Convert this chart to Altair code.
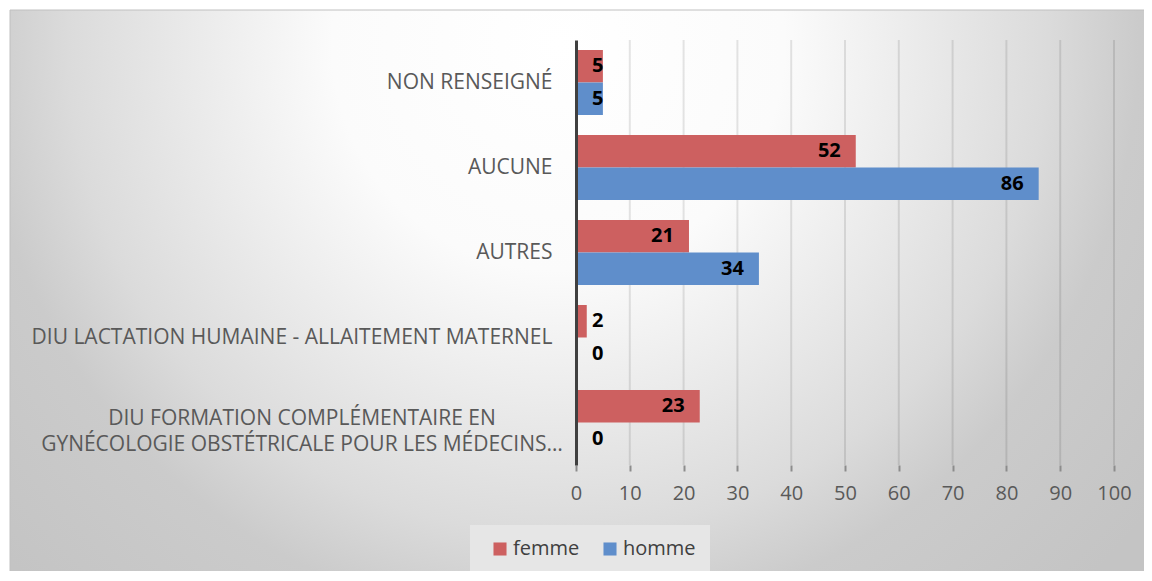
import altair as alt
import pandas as pd

# ---- data ----
categories = [
    "NON RENSEIGNÉ",
    "AUCUNE",
    "AUTRES",
    "DIU LACTATION HUMAINE - ALLAITEMENT MATERNEL",
    "DIU FORMATION COMPLÉMENTAIRE EN\nGYNÉCOLOGIE OBSTÉTRICALE POUR LES MÉDECINS…",
]
femme = [5, 52, 21, 2, 23]
homme = [5, 86, 34, 0, 0]
series = ["femme", "homme"]
colors = ["#cd6060", "#5f8ecb"]
x_ticks = [0, 10, 20, 30, 40, 50, 60, 70, 80, 90, 100]

rows = []
for c, f, h in zip(categories, femme, homme):
    rows.append({"cat": c, "sexe": "femme", "n": f})
    rows.append({"cat": c, "sexe": "homme", "n": h})
df = pd.DataFrame(rows)
grid_df = pd.DataFrame({"t": x_ticks[1:]})
multi_df = pd.DataFrame({"cat": [c for c in categories if "\n" in c]})

W, H = 538, 425
FONT = "Open Sans"

ysc = alt.Scale(domain=categories, paddingInner=0.235, paddingOuter=0.1175)
xsc = alt.Scale(domain=[0, 100], nice=False)

xaxis = alt.Axis(
    values=x_ticks,
    grid=False,
    domain=False,
    ticks=True,
    tickColor="#8c8c8c",
    tickWidth=2,
    tickSize=6,
    labelPadding=12,
    labelFontSize=20,
    labelColor="#595959",
    labelFont=FONT,
    labelFlush=False,
    labelOverlap=False,
    title=None,
    zindex=1,
)

yaxis = alt.Axis(
    labelExpr="indexof(datum.label, '\\n') >= 0 ? '' : datum.label",
    labelAlign="right",
    labelPadding=24,
    labelFontSize=21,
    labelColor="#595959",
    labelFont=FONT,
    labelLimit=700,
    ticks=False,
    domain=True,
    domainColor="#404040",
    domainWidth=3,
    grid=False,
    title=None,
    zindex=1,
)

bg_gradient = {
    "gradient": "radial",
    "x1": 0.48, "y1": 0.03, "r1": 0,
    "x2": 0.48, "y2": 0.03, "r2": 0.66,
    "stops": [
        {"offset": 0.0, "color": "#ffffff"},
        {"offset": 0.3, "color": "#fbfbfb"},
        {"offset": 0.65, "color": "#dbdbdb"},
        {"offset": 0.77, "color": "#cbcbcb"},
        {"offset": 1.0, "color": "#c4c4c4"},
    ],
}

background = alt.Chart(pd.DataFrame({"k": [0]})).mark_rect(
    fill=bg_gradient, stroke="#c0c0c0", strokeWidth=1
).encode(
    x=alt.value(-566), x2=alt.value(576), y=alt.value(-30), y2=alt.value(1112)
)

grid = alt.Chart(grid_df).mark_rule(color="#000000", opacity=0.1, strokeWidth=2).encode(
    x=alt.X("t:Q", scale=xsc, axis=xaxis),
    y=alt.value(0),
    y2=alt.value(H),
)

base = alt.Chart(df).encode(
    y=alt.Y("cat:N", scale=ysc, sort=categories, axis=yaxis),
    yOffset=alt.YOffset("sexe:N", sort=series, scale=alt.Scale(paddingInner=0, paddingOuter=0)),
)

bars = base.mark_bar().encode(
    x=alt.X("n:Q", scale=xsc, axis=xaxis),
    color=alt.Color(
        "sexe:N",
        scale=alt.Scale(domain=series, range=colors),
        legend=alt.Legend(
            title=None,
            orient="none",
            direction="horizontal",
            legendX=-106,
            legendY=485,
            fillColor="#e6e6e6",
            padding=14,
            symbolType="square",
            symbolSize=170,
            symbolStrokeWidth=0,
            labelFontSize=20,
            labelFont=FONT,
            labelColor="#404040",
            labelOffset=3,
            columnPadding=14,
            symbolOffset=6,
        ),
    ),
)

labels_big = base.transform_filter("datum.n > 5").mark_text(
    align="right", baseline="middle", dx=-15, fontSize=20, fontWeight="bold",
    font=FONT, color="#000000"
).encode(x=alt.X("n:Q", scale=xsc, axis=xaxis), text="n:Q")

labels_small = base.transform_filter("datum.n <= 5").transform_calculate(
    zero="0"
).mark_text(
    align="left", baseline="middle", dx=16, fontSize=20, fontWeight="bold",
    font=FONT, color="#000000"
).encode(x=alt.X("zero:Q", scale=xsc, axis=xaxis), text="n:Q")

multi_label = alt.Chart(multi_df).mark_text(
    align="center", baseline="middle", lineBreak="\n", lineHeight=26, dy=-4,
    fontSize=21, font=FONT, color="#595959"
).encode(
    y=alt.Y("cat:N", scale=ysc, sort=categories, axis=yaxis),
    x=alt.value(-274),
    text="cat:N",
)

chart = alt.layer(background, grid, bars, labels_big, labels_small, multi_label).properties(
    width=W,
    height=H,
    autosize=alt.AutoSizeParams(type="none"),
    padding={"left": 568, "top": 32, "right": 30, "bottom": 106},
).configure_view(stroke=None).configure(background="#ffffff")

chart.save("out.html", embed_options={"renderer": "svg", "actions": False})
